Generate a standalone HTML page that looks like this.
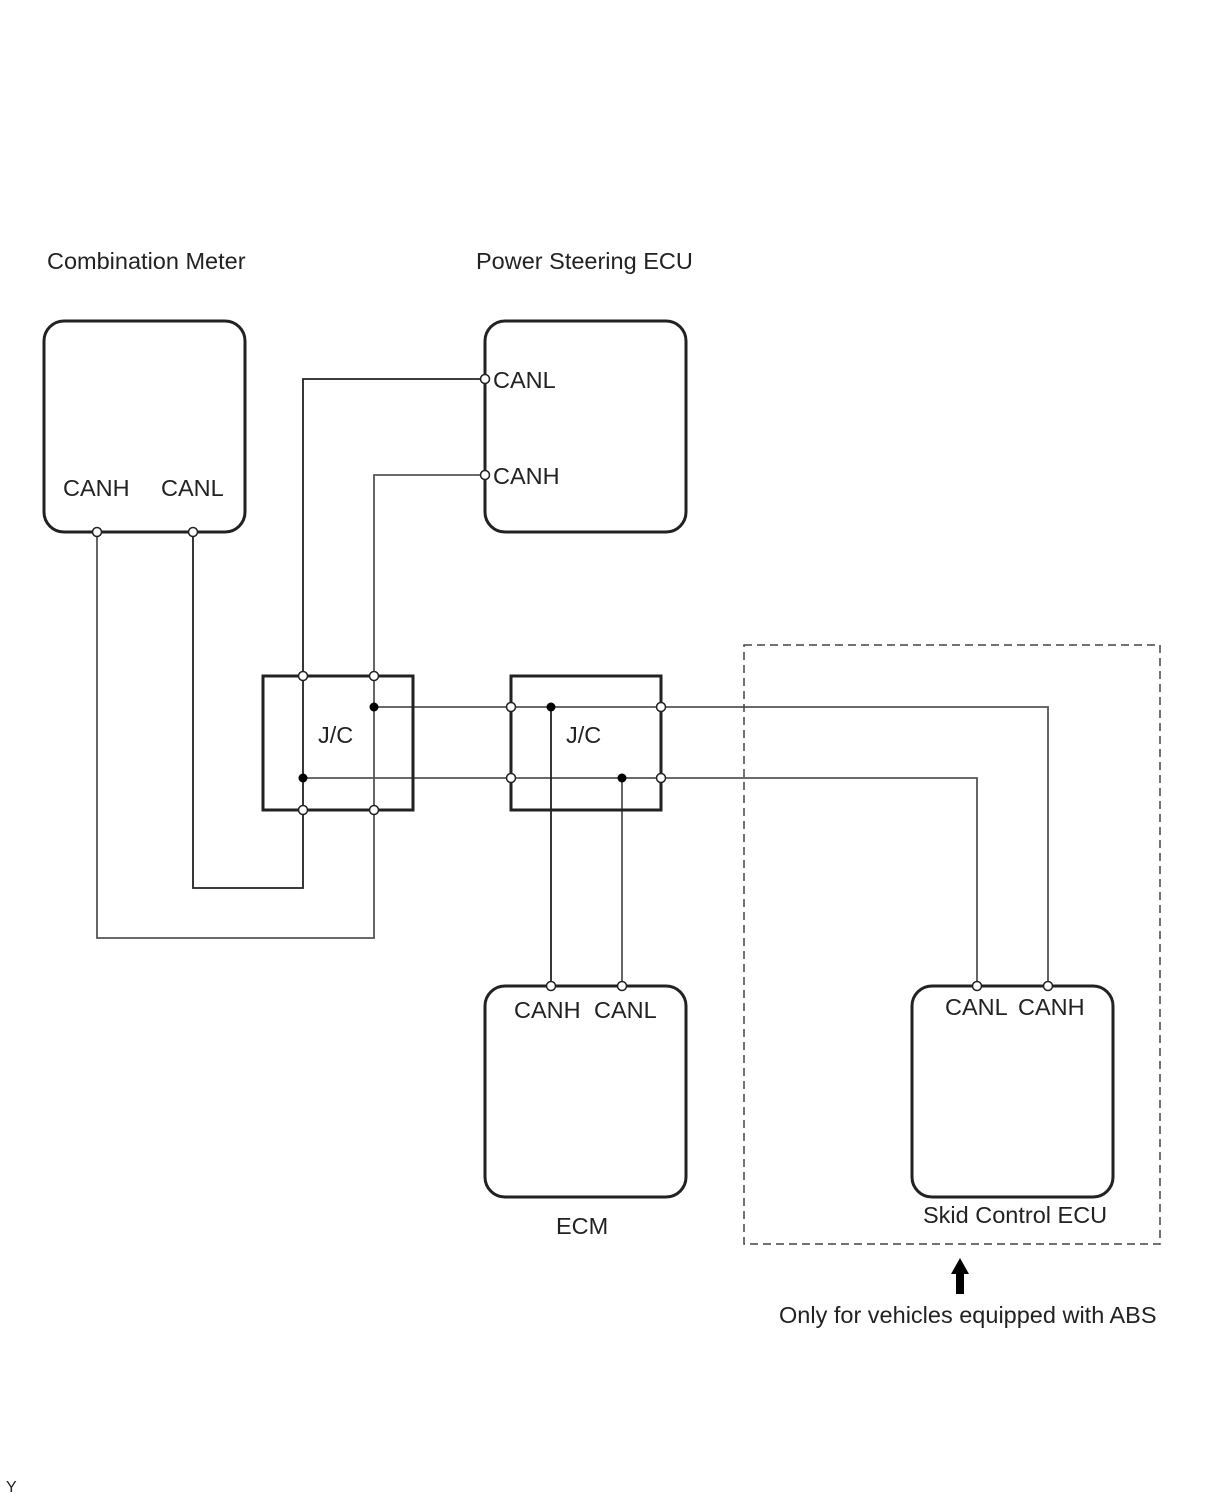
<!DOCTYPE html>
<html><head><meta charset="utf-8"><style>
html,body{margin:0;padding:0;background:#fff;}
svg{display:block;}
text{font-family:"Liberation Sans",Arial,sans-serif;font-size:23.5px;fill:#222;}
</style></head><body>
<svg width="1210" height="1498" viewBox="0 0 1210 1498" xmlns="http://www.w3.org/2000/svg">
<g fill="none" stroke="#222" stroke-width="1.8">
<polyline points="485,379 303,379 303,888 193,888 193,532"/>
<polyline points="485,475 374,475 374,938 97,938 97,532" stroke="#555"/>
<polyline points="374,707 1048,707 1048,986" stroke="#555"/>
<polyline points="303,778 977,778 977,986" stroke="#555"/>
<line x1="551" y1="707" x2="551" y2="986"/>
<line x1="622" y1="778" x2="622" y2="986" stroke="#555"/>
</g>
<g fill="none" stroke="#222" stroke-width="3">
<rect x="44" y="321" width="201" height="211" rx="20"/>
<rect x="485" y="321" width="201" height="211" rx="20"/>
<rect x="485" y="986" width="201" height="211" rx="20"/>
<rect x="912" y="986" width="201" height="211" rx="20"/>
<rect x="263" y="676" width="150" height="134"/>
<rect x="511" y="676" width="150" height="134"/>
</g>
<rect x="744" y="645" width="416" height="599" fill="none" stroke="#444" stroke-width="1.5" stroke-dasharray="8,5"/>
<g fill="#fff" stroke="#222" stroke-width="1.5">
<circle cx="303" cy="676" r="4.5"/><circle cx="374" cy="676" r="4.5"/>
<circle cx="303" cy="810" r="4.5"/><circle cx="374" cy="810" r="4.5"/>
<circle cx="511" cy="707" r="4.5"/><circle cx="511" cy="778" r="4.5"/>
<circle cx="661" cy="707" r="4.5"/><circle cx="661" cy="778" r="4.5"/>
<circle cx="97" cy="532" r="4.5"/><circle cx="193" cy="532" r="4.5"/>
<circle cx="485" cy="379" r="4.5"/><circle cx="485" cy="475" r="4.5"/>
<circle cx="551" cy="986" r="4.5"/><circle cx="622" cy="986" r="4.5"/>
<circle cx="977" cy="986" r="4.5"/><circle cx="1048" cy="986" r="4.5"/>
</g>
<g fill="#000">
<circle cx="374" cy="707" r="4.5"/><circle cx="303" cy="778" r="4.5"/>
<circle cx="551" cy="707" r="4.5"/><circle cx="622" cy="778" r="4.5"/>
<polygon points="960,1258 951,1274 956,1274 956,1294 964,1294 964,1274 969,1274"/>
</g>
<text x="47" y="269">Combination Meter</text>
<text x="476" y="269">Power Steering ECU</text>
<text x="63" y="496">CANH</text>
<text x="161" y="496">CANL</text>
<text x="493" y="388">CANL</text>
<text x="493" y="484">CANH</text>
<text x="318" y="743">J/C</text>
<text x="566" y="743">J/C</text>
<text x="514" y="1018">CANH</text>
<text x="594" y="1018">CANL</text>
<text x="945" y="1015">CANL</text>
<text x="1018" y="1015">CANH</text>
<text x="556" y="1234">ECM</text>
<text x="923" y="1223">Skid Control ECU</text>
<text x="779" y="1323">Only for vehicles equipped with ABS</text>
<text x="6" y="1492" style="font-size:16px">Y</text>
</svg>
</body></html>
